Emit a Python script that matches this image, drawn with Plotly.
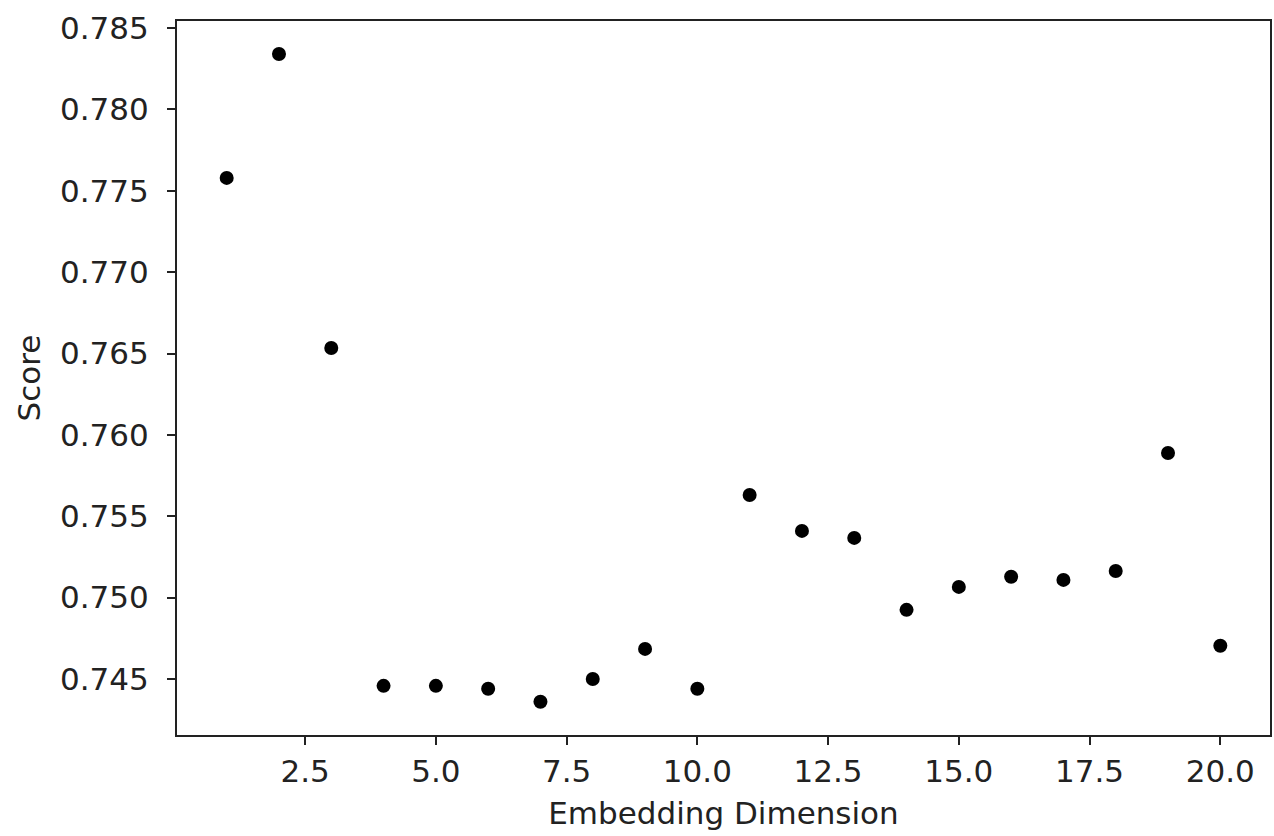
import plotly.graph_objects as go

dims = list(range(1, 21))
scores = [0.77579, 0.78340, 0.76534, 0.74458, 0.74458, 0.74440, 0.74360, 0.74500,
          0.74685, 0.74440, 0.75631, 0.75410, 0.75367, 0.74925, 0.75066, 0.75128,
          0.75109, 0.75164, 0.75889, 0.74704]

font = "DejaVu Sans"
fs = 31
fig = go.Figure(go.Scatter(x=dims, y=scores, mode="markers",
                           marker=dict(color="black", size=14)))

axis_common = dict(showline=True, linecolor="#222", linewidth=2, mirror=True,
                   ticks="outside", ticklen=8, tickwidth=2, tickcolor="#222",
                   showgrid=False, zeroline=False,
                   tickfont=dict(family=font, size=fs, color="#222"))

fig.update_xaxes(range=[0.05, 20.95], tick0=0, dtick=2.5, tickformat=".1f",
                 title=dict(text="Embedding Dimension", font=dict(family=font, size=fs, color="#222"), standoff=14),
                 **axis_common)
fig.update_yaxes(range=[0.74156, 0.78543], tick0=0.745, dtick=0.005, tickformat=".3f",
                 ticklabelstandoff=12,
                 title=dict(text="Score", font=dict(family=font, size=fs, color="#222"), standoff=10),
                 **axis_common)

fig.update_layout(width=1274, height=836, margin=dict(l=177, r=2, t=21, b=101),
                  plot_bgcolor="white", paper_bgcolor="white", showlegend=False)

fig.write_html("out.html")
